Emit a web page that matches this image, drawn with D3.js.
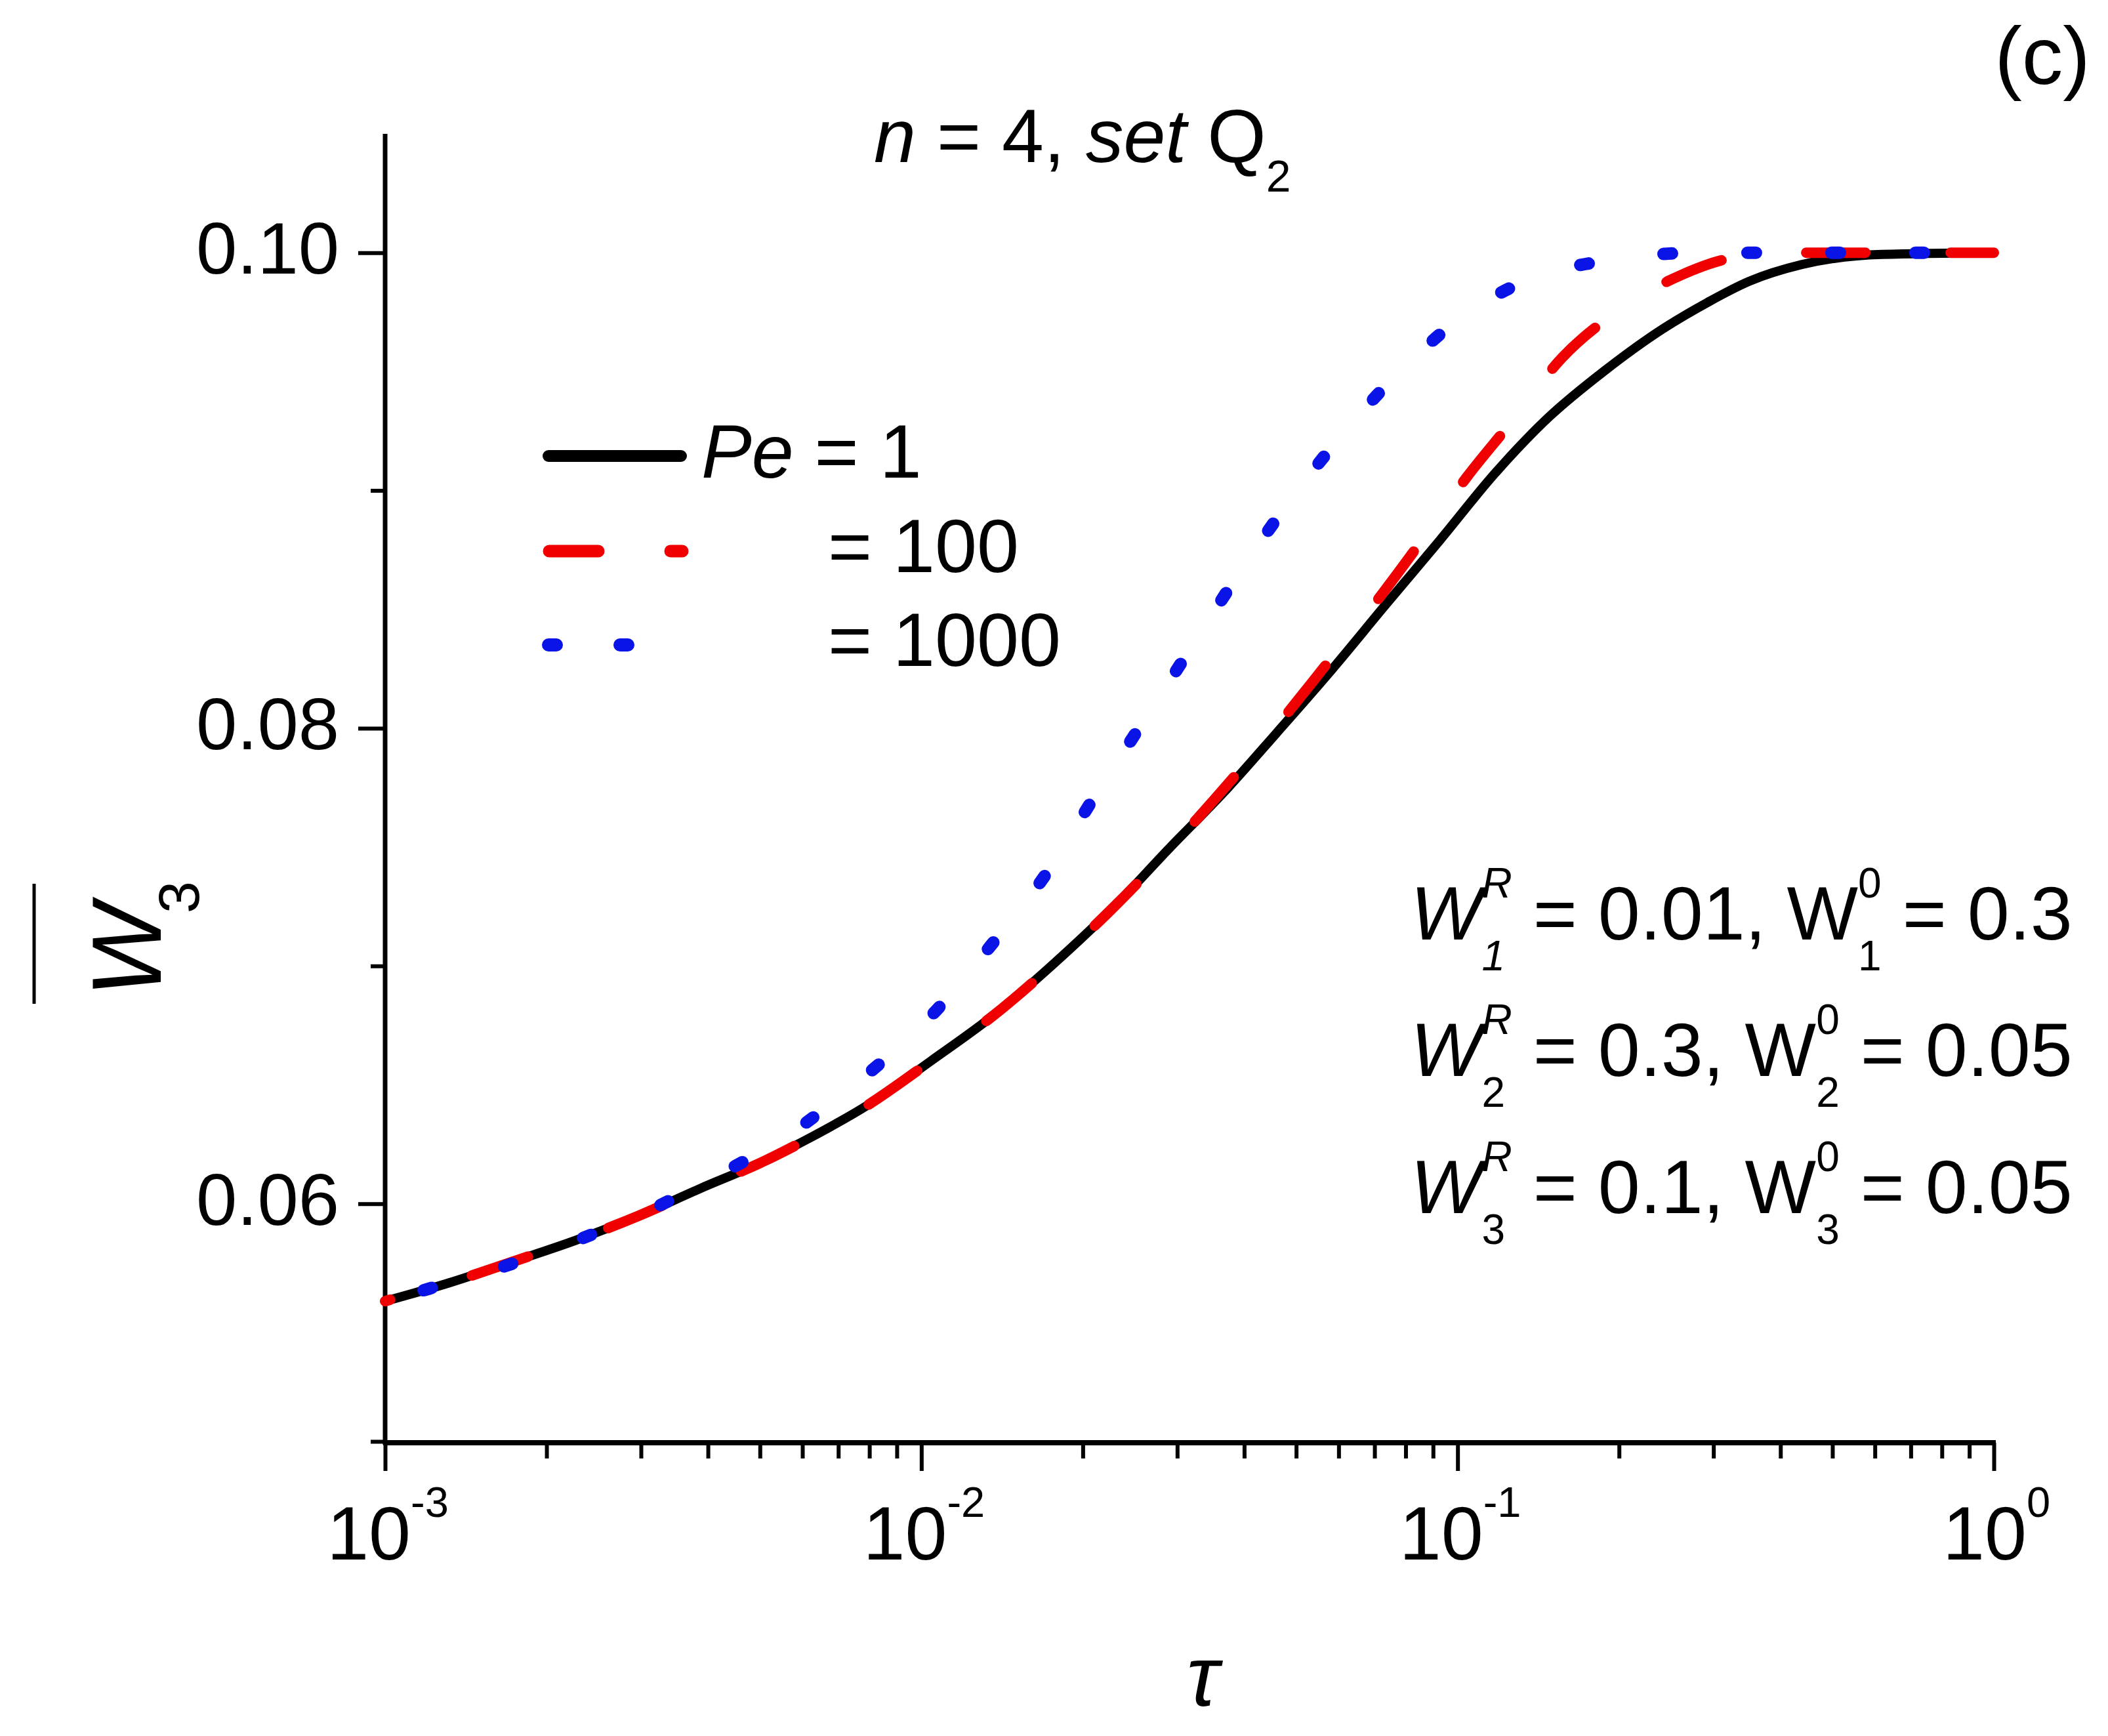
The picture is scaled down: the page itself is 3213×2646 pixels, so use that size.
<!DOCTYPE html>
<html><head><meta charset="utf-8">
<script src="https://cdnjs.cloudflare.com/ajax/libs/d3/7.8.5/d3.min.js"></script>
<style>
html,body{margin:0;padding:0;background:#fff;}
svg{display:block;}
text{font-family:"Liberation Sans", Arial, sans-serif; fill:#000; white-space:pre;}
</style>
</head><body>
<svg id="chart" width="3213" height="2646"></svg>
<script>
// ---------------- data ----------------
const tauPe1 = [0.001, 0.00132, 0.00173, 0.00226, 0.00297, 0.00388, 0.00508, 0.00608, 0.00796, 0.01043, 0.01381, 0.01765, 0.02288, 0.02883, 0.03736, 0.04601, 0.0581, 0.07341, 0.09278, 0.1172, 0.1482, 0.1871, 0.2415, 0.292, 0.35, 0.438, 0.619, 1.0];
const wPe1   = [0.0559, 0.05668, 0.05756, 0.05845, 0.05949, 0.06065, 0.06178, 0.06267, 0.06416, 0.06601, 0.06802, 0.07009, 0.07249, 0.07489, 0.07751, 0.07981, 0.08243, 0.08519, 0.08792, 0.0907, 0.0931, 0.0950, 0.0968, 0.0979, 0.0988, 0.0995, 0.09993, 0.1];

const tauPe100 = [0.001, 0.00132, 0.00173, 0.00226, 0.00297, 0.00388, 0.00508, 0.00608, 0.00796, 0.01043, 0.01381, 0.01765, 0.02288, 0.0299, 0.0472, 0.0569, 0.071, 0.0845, 0.1041, 0.1258, 0.1567, 0.1958, 0.26, 0.329, 0.45, 1.0];
const wPe100   = [0.0559, 0.05668, 0.05756, 0.05845, 0.05949, 0.06065, 0.06178, 0.06267, 0.06416, 0.06601, 0.06802, 0.07009, 0.07249, 0.07523, 0.08039, 0.08268, 0.08541, 0.0877, 0.09057, 0.09286, 0.09559, 0.09744, 0.09904, 0.09979, 0.1, 0.1];

const tauPe1000 = [0.001, 0.00121, 0.00164, 0.00222, 0.00302, 0.00414, 0.00565, 0.00775, 0.01036, 0.01351, 0.01706, 0.02079, 0.0254, 0.03094, 0.03777, 0.04691, 0.05944, 0.07793, 0.1056, 0.1428, 0.1958, 0.28, 0.4, 1.0];
const wPe1000   = [0.0559, 0.05643, 0.05731, 0.05836, 0.05959, 0.06115, 0.06289, 0.06526, 0.06783, 0.07089, 0.07385, 0.07694, 0.07997, 0.08295, 0.08599, 0.08908, 0.09206, 0.09499, 0.09755, 0.09905, 0.09971, 0.1, 0.1, 0.1];

const xMajorTicks = [0.001, 0.01, 0.1, 1];
const xTickExponents = ["-3", "-2", "-1", "0"];
const yMajorTicks = [0.06, 0.08, 0.10];
const yMinorTicks = [0.05, 0.07, 0.09];
const yTickLabels = ["0.06", "0.08", "0.10"];
const legendLabels = [" = 1", "= 100", "= 1000"];
const annIndex = ["1", "2", "3"];
const annRValues = ["0.01", "0.3", "0.1"];
const ann0Values = ["0.3", "0.05", "0.05"];

// ---------------- setup ----------------
const svg = d3.select("#chart");
svg.append("rect").attr("width", 3213).attr("height", 2646).attr("fill", "#fff");

const x = d3.scaleLog().domain([1e-3, 1]).range([587, 3039]);
const y = d3.scaleLinear().domain([0.05, 0.105]).range([2197, 204]);
const xAxisY = 2199, yAxisX = 587;

// ---------------- axes ----------------
const xMinor = x.ticks().filter(v => !xMajorTicks.some(m => Math.abs(m - v) / m < 1e-9));

const gxMinor = svg.append("g").attr("transform", `translate(0,${xAxisY})`)
  .call(d3.axisBottom(x).tickValues(xMinor).tickSize(24).tickSizeOuter(0).tickFormat(""));
const gxMajor = svg.append("g").attr("transform", `translate(0,${xAxisY})`)
  .call(d3.axisBottom(x).tickValues(xMajorTicks).tickSize(43).tickSizeOuter(0).tickFormat(""));
const gyMinor = svg.append("g").attr("transform", `translate(${yAxisX},0)`)
  .call(d3.axisLeft(y).tickValues(yMinorTicks).tickSize(22).tickSizeOuter(0).tickFormat(""));
const gyMajor = svg.append("g").attr("transform", `translate(${yAxisX},0)`)
  .call(d3.axisLeft(y).tickValues(yMajorTicks).tickSize(41).tickSizeOuter(0).tickFormat(""));
[gxMinor, gxMajor, gyMinor, gyMajor].forEach(g => {
  g.select(".domain").remove();
  g.selectAll(".tick line").attr("stroke", "#000").attr("stroke-width", 6);
});

// axis lines
svg.append("line").attr("x1", yAxisX).attr("x2", yAxisX).attr("y1", y.range()[1]).attr("y2", xAxisY + 3)
  .attr("stroke", "#000").attr("stroke-width", 7);
svg.append("line").attr("x1", yAxisX - 3).attr("x2", x.range()[1] + 3).attr("y1", xAxisY).attr("y2", xAxisY)
  .attr("stroke", "#000").attr("stroke-width", 8);

// x tick labels 10^n
xMajorTicks.forEach((v, i) => {
  const t = svg.append("text").attr("x", x(v) + 4).attr("y", 2377)
    .attr("text-anchor", "middle").style("font-size", "115px");
  t.append("tspan").text("10");
  t.append("tspan").attr("dy", -65).style("font-size", "65px").text(xTickExponents[i]);
});

// y tick labels
yMajorTicks.forEach((v, i) => {
  svg.append("text").attr("x", 517).attr("y", y(v) + 32)
    .attr("text-anchor", "end").style("font-size", "112px").text(yTickLabels[i]);
});

// ---------------- curves ----------------
const line = d3.line().x(d => x(d.t)).y(d => y(d.w)).curve(d3.curveMonotoneX);
const s1 = tauPe1.map((t, i) => ({t, w: wPe1[i]}));
const s100 = tauPe100.map((t, i) => ({t, w: wPe100[i]}));
const s1000 = tauPe1000.map((t, i) => ({t, w: wPe1000[i]}));

svg.append("path").datum(s1).attr("d", line).attr("fill", "none")
  .attr("stroke", "#000").attr("stroke-width", 14).attr("stroke-linejoin", "round");
svg.append("path").datum(s100).attr("d", line).attr("fill", "none")
  .attr("stroke", "#f00000").attr("stroke-width", 16).attr("stroke-linecap", "round")
  .attr("stroke-dasharray", "90,130").attr("stroke-dashoffset", 82);
svg.append("path").datum(s1000).attr("d", line).attr("fill", "none")
  .attr("stroke", "#0a14e6").attr("stroke-width", 19).attr("stroke-linecap", "round")
  .attr("stroke-dasharray", "13,115").attr("stroke-dashoffset", 67);

// ---------------- legend ----------------
const legY = [695, 840, 983];
const legTextY = [728, 872, 1015];
svg.append("line").attr("x1", 836).attr("x2", 1038).attr("y1", legY[0]).attr("y2", legY[0])
  .attr("stroke", "#000").attr("stroke-width", 18).attr("stroke-linecap", "round");
svg.append("line").attr("x1", 837).attr("x2", 1040).attr("y1", legY[1]).attr("y2", legY[1])
  .attr("stroke", "#f00000").attr("stroke-width", 19).attr("stroke-linecap", "round")
  .attr("stroke-dasharray", "75,110");
svg.append("line").attr("x1", 836).attr("x2", 957).attr("y1", legY[2]).attr("y2", legY[2])
  .attr("stroke", "#0a14e6").attr("stroke-width", 20).attr("stroke-linecap", "round")
  .attr("stroke-dasharray", "12,97");
const l0 = svg.append("text").attr("x", 1069).attr("y", legTextY[0]).style("font-size", "115px");
l0.append("tspan").style("font-style", "italic").text("Pe");
l0.append("tspan").text(legendLabels[0]);
svg.append("text").attr("x", 1262).attr("y", legTextY[1]).style("font-size", "115px").text(legendLabels[1]);
svg.append("text").attr("x", 1262).attr("y", legTextY[2]).style("font-size", "115px").text(legendLabels[2]);

// ---------------- title & panel label ----------------
const title = svg.append("text").attr("x", 1332).attr("y", 247).style("font-size", "115px");
title.append("tspan").style("font-style", "italic").text("n");
title.append("tspan").text(" = 4, ");
title.append("tspan").style("font-style", "italic").text("set");
title.append("tspan").text(" Q");
title.append("tspan").attr("dy", 45).style("font-size", "68px").text("2");

svg.append("text").attr("x", 3186).attr("y", 128).attr("text-anchor", "end")
  .style("font-size", "125px").text("(c)");

// ---------------- axis titles ----------------
const yl = svg.append("g").attr("transform", "translate(245,1520) rotate(-90)");
yl.append("text").attr("x", 0).attr("y", 0).style("font-size", "150px").style("font-style", "italic").text("W");
yl.append("text").attr("x", 128).attr("y", 58).style("font-size", "88px").text("3");
yl.append("line").attr("x1", -10).attr("x2", 173).attr("y1", -193).attr("y2", -193)
  .attr("stroke", "#000").attr("stroke-width", 5);

svg.append("text").attr("x", 1833).attr("y", 2600).attr("text-anchor", "middle")
  .style("font-size", "130px").style("font-style", "italic").text("τ");

// ---------------- annotation ----------------
function flow(g, x0, yb, parts) {
  let cx = x0;
  parts.forEach(p => {
    if (p.stack) {
      const sup = g.append("text").attr("x", cx).attr("y", yb - 64).style("font-size", "64px")
        .style("font-style", p.supItalic ? "italic" : "normal").text(p.sup);
      const sub = g.append("text").attr("x", cx).attr("y", yb + 47).style("font-size", "64px")
        .style("font-style", p.subItalic ? "italic" : "normal").text(p.sub);
      cx += Math.max(sup.node().getComputedTextLength(), sub.node().getComputedTextLength());
    } else {
      const t = g.append("text").attr("x", cx).attr("y", yb).style("font-size", "115px")
        .style("font-style", p.italic ? "italic" : "normal").text(p.text);
      cx += t.node().getComputedTextLength();
    }
  });
}
const annY = [1432, 1640, 1849];
const ann = svg.append("g");
annIndex.forEach((k, i) => {
  flow(ann, 2150, annY[i], [
    {text: "W", italic: true},
    {stack: true, sup: "R", supItalic: true, sub: k, subItalic: i === 0},
    {text: " = " + annRValues[i] + ", W"},
    {stack: true, sup: "0", sub: k},
    {text: " = " + ann0Values[i]}
  ]);
});
</script>
</body></html>
